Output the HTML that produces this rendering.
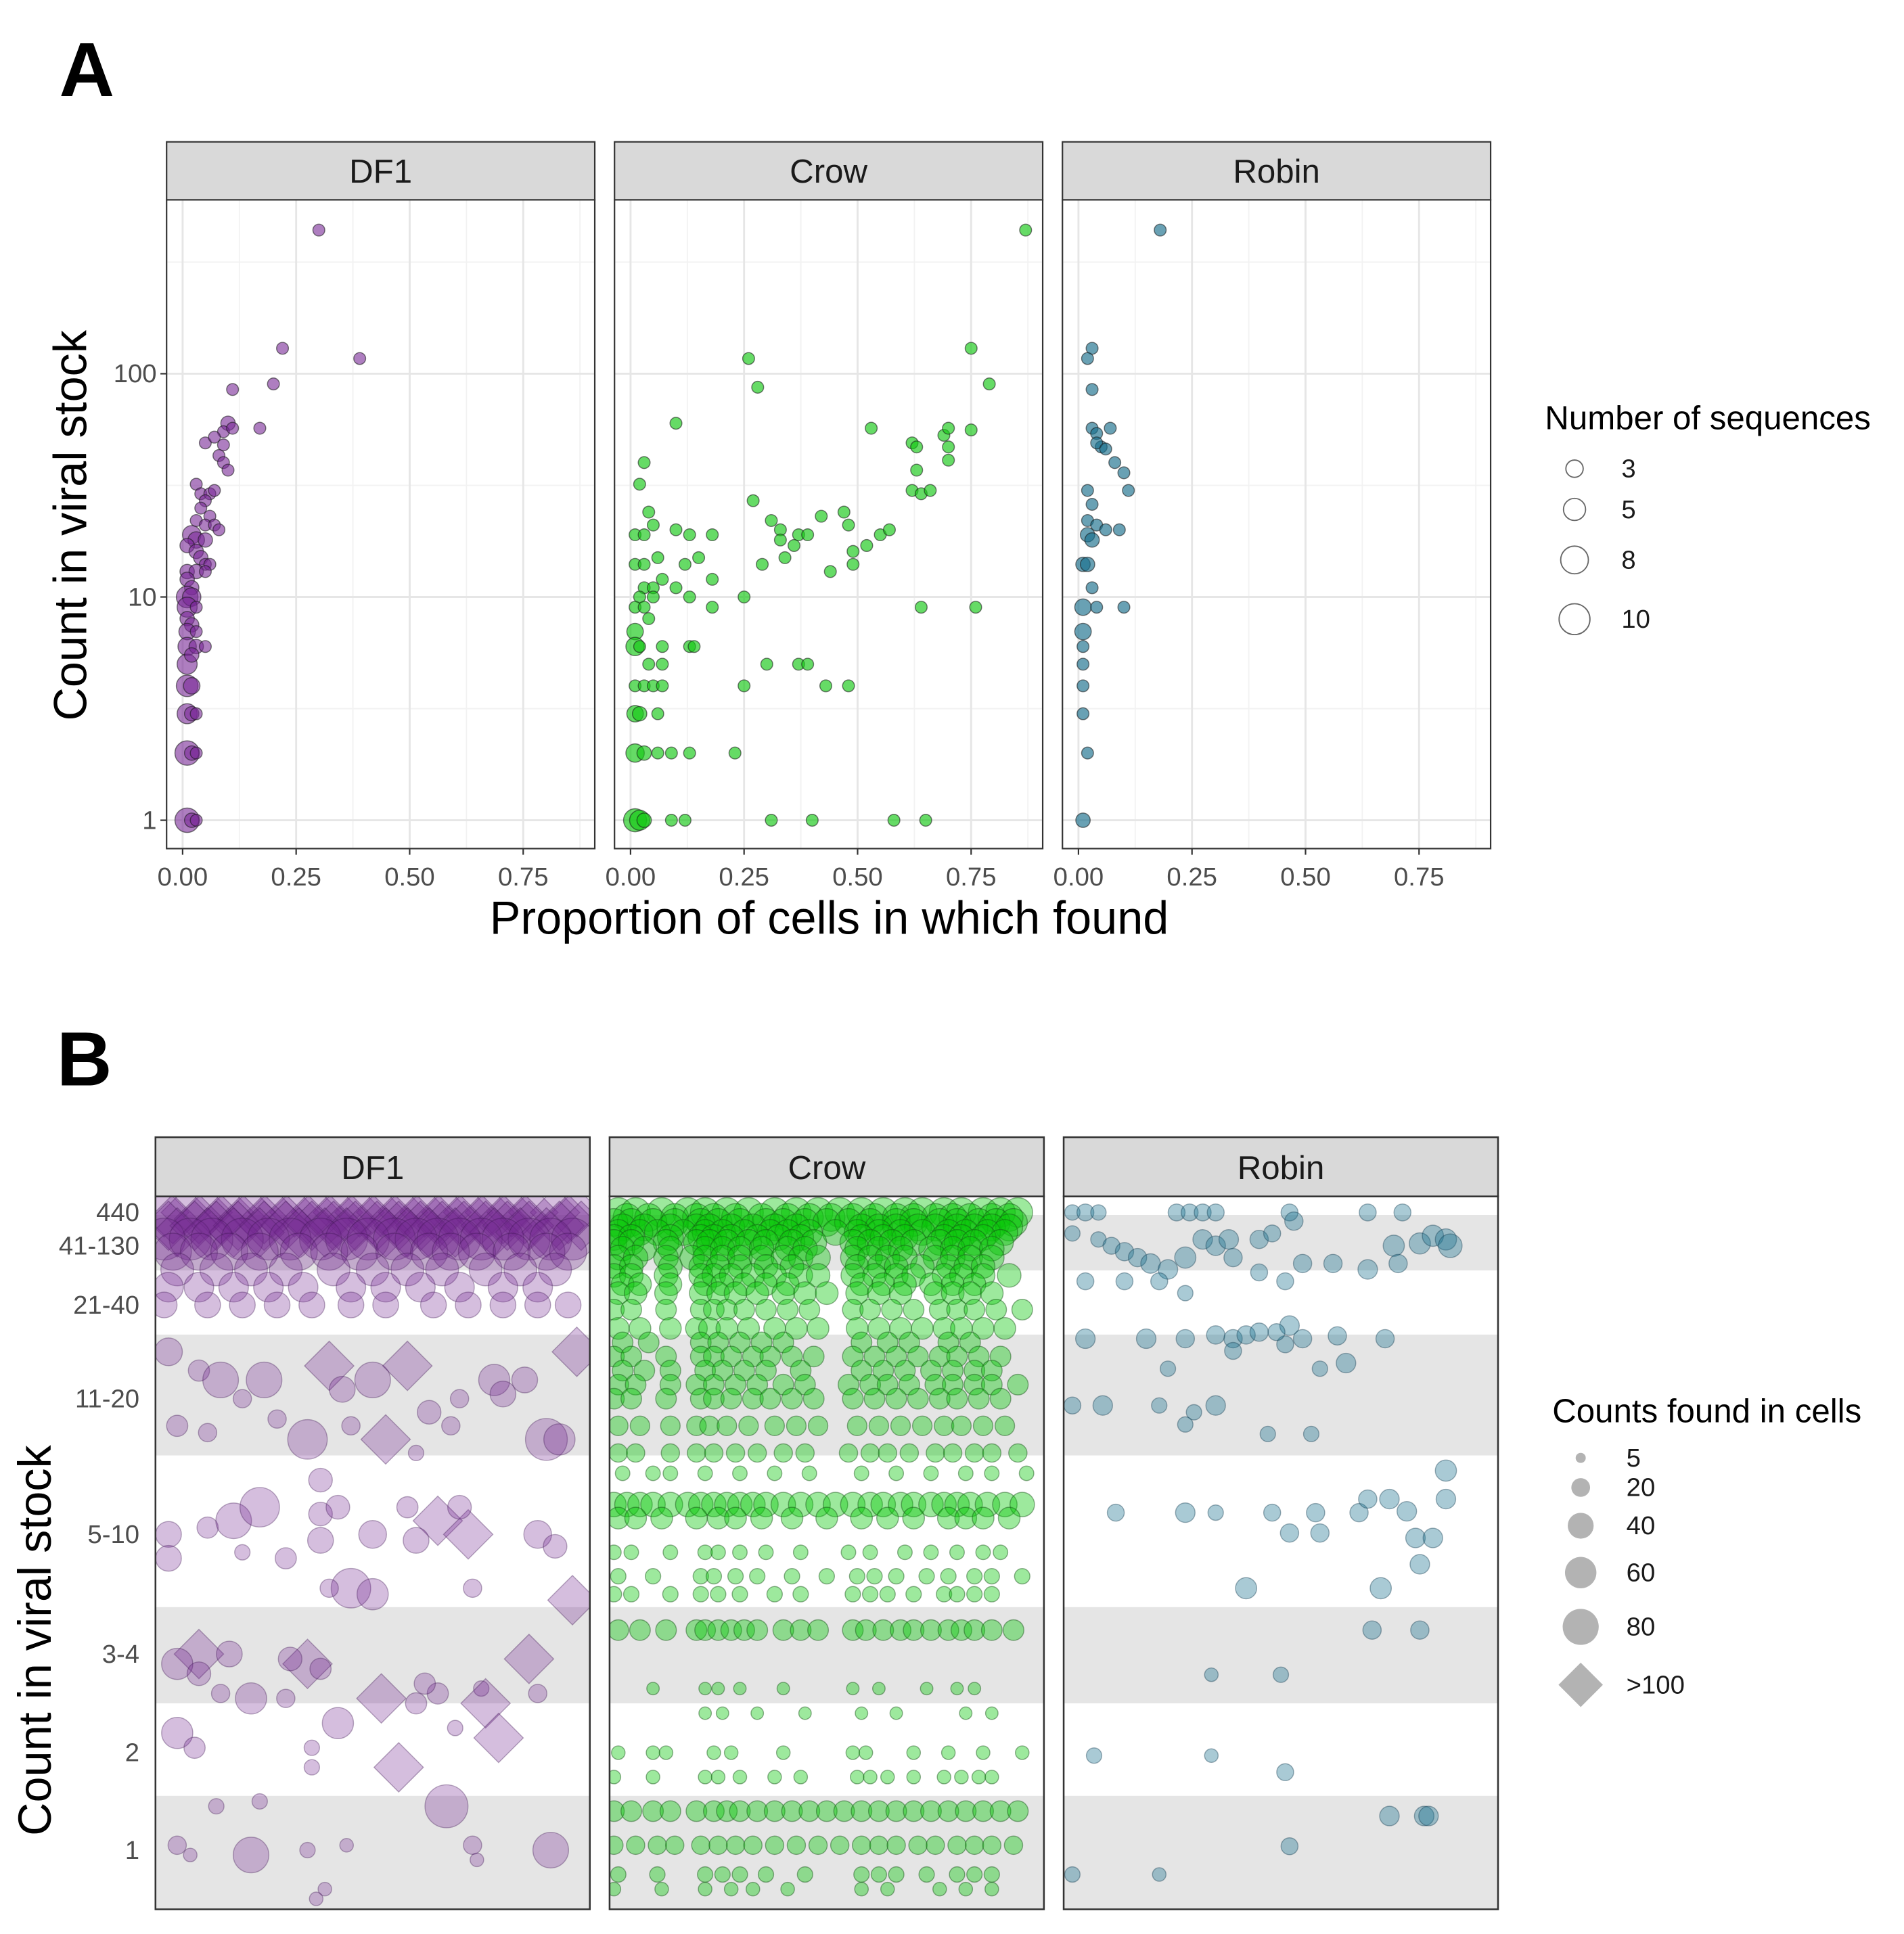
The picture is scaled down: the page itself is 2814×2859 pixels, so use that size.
<!DOCTYPE html>
<html><head><meta charset="utf-8"><style>
html,body{margin:0;padding:0;background:#fff}
svg{display:block}
text{font-family:"Liberation Sans",Arial,sans-serif}
</style></head><body>
<svg id="fig" xmlns="http://www.w3.org/2000/svg" width="2814" height="2859" viewBox="0 0 1543 1568" preserveAspectRatio="none">
<rect x="0" y="0" width="1560" height="1585" fill="#fff"/>
<text x="48" y="78" font-size="62" font-weight="bold">A</text>
<text x="46" y="880" font-size="62" font-weight="bold">B</text>
<g id="gA"></g>
<g id="gB"></g>
</svg>
<script>
// ===== Panel A data =====
const facetNames = ["DF1","Crow","Robin"];
const xTicksA = [0,0.25,0.5,0.75];
const xTickLabelsA = ["0.00","0.25","0.50","0.75"];
const yTicksA = [1,10,100];
const yTickLabelsA = ["1","10","100"];
const legendASizes = [3,5,8,10];
const legendALabels = ["3","5","8","10"];
// [proportion, count, n sequences]
const df1A = [[0.30,440,2],[0.22,130,2],[0.39,117,2],[0.11,85,2],[0.20,90,2],[0.10,60,3],[0.09,55,2],[0.11,57,2],[0.17,57,2],[0.05,49,2],[0.07,52,2],[0.09,48,2],[0.08,43,2],[0.09,40,2],[0.10,37,2],[0.03,32,2],[0.04,29,2],[0.06,29,2],[0.07,30,2],[0.05,27,2],[0.04,25,2],[0.06,23,2],[0.03,22,2],[0.05,21,2],[0.07,21,2],[0.08,20,2],[0.02,19,5],[0.03,18,4],[0.05,18,3],[0.01,17,3],[0.03,16,3],[0.04,15,3],[0.05,14,2],[0.06,14,2],[0.01,13,3],[0.03,13,3],[0.05,13,2],[0.01,12,3],[0.02,11,3],[0.01,10,7],[0.02,10,5],[0.01,9,6],[0.03,9,2],[0.01,8,3],[0.02,7.5,3],[0.01,7,4],[0.03,7,2],[0.01,6,5],[0.03,6,3],[0.05,6,2],[0.01,5,6],[0.02,5.5,3],[0.01,4,7],[0.02,4,4],[0.01,3,6],[0.02,3,3],[0.03,3,2],[0.01,2,9],[0.02,2,3],[0.03,2,2],[0.01,1,9],[0.02,1,3],[0.03,1,2]];
const crowA = [[0.87,440,2],[0.26,117,2],[0.28,87,2],[0.75,130,2],[0.79,90,2],[0.10,60,2],[0.53,57,2],[0.62,49,2],[0.63,47,2],[0.69,53,2],[0.70,57,2],[0.75,56,2],[0.70,47,2],[0.70,41,2],[0.63,37,2],[0.62,30,2],[0.64,29,2],[0.66,30,2],[0.03,40,2],[0.02,32,2],[0.04,24,2],[0.01,19,2],[0.03,19,2],[0.05,21,2],[0.10,20,2],[0.13,19,2],[0.18,19,2],[0.27,27,2],[0.31,22,2],[0.33,20,2],[0.33,18,2],[0.37,19,2],[0.36,17,2],[0.39,19,2],[0.42,23,2],[0.47,24,2],[0.48,21,2],[0.55,19,2],[0.57,20,2],[0.52,17,2],[0.49,16,2],[0.49,14,2],[0.44,13,2],[0.34,15,2],[0.29,14,2],[0.25,10,2],[0.15,15,2],[0.12,14,2],[0.01,14,2],[0.03,14,2],[0.06,15,2],[0.07,12,2],[0.03,11,2],[0.05,11,2],[0.18,12,2],[0.10,11,2],[0.02,10,2],[0.05,10,2],[0.13,10,2],[0.18,9,2],[0.64,9,2],[0.76,9,2],[0.01,9,2],[0.03,9,2],[0.04,8,2],[0.01,7,4],[0.01,6,5],[0.02,6,2],[0.07,6,2],[0.13,6,2],[0.14,6,2],[0.04,5,2],[0.07,5,2],[0.30,5,2],[0.37,5,2],[0.39,5,2],[0.01,4,2],[0.03,4,2],[0.05,4,2],[0.07,4,2],[0.25,4,2],[0.43,4,2],[0.48,4,2],[0.01,3,4],[0.02,3,3],[0.06,3,2],[0.01,2,5],[0.03,2,3],[0.06,2,2],[0.09,2,2],[0.13,2,2],[0.23,2,2],[0.01,1,8],[0.02,1,6],[0.03,1,3],[0.09,1,2],[0.12,1,2],[0.31,1,2],[0.40,1,2],[0.58,1,2],[0.65,1,2]];
const robinA = [[0.18,440,2],[0.03,130,2],[0.02,117,2],[0.03,85,2],[0.03,57,2],[0.04,54,2],[0.05,47,2],[0.04,49,2],[0.07,57,2],[0.06,46,2],[0.08,40,2],[0.10,36,2],[0.11,30,2],[0.02,30,2],[0.03,26,2],[0.02,22,2],[0.04,21,2],[0.02,19,3],[0.03,18,3],[0.06,20,2],[0.09,20,2],[0.01,14,3],[0.02,14,3],[0.03,11,2],[0.01,9,4],[0.04,9,2],[0.10,9,2],[0.01,7,4],[0.01,6,2],[0.01,5,2],[0.01,4,2],[0.01,3,2],[0.02,2,2],[0.01,1,3]];

// ===== Panel B data =====
const yCatLabelsB = ["1","2","3-4","5-10","11-20","21-40","41-130","440"];
const legendBValues = [5,20,40,60,80];
const legendBLabels = ["5","20","40","60","80",">100"];
// DF1 dense top rows: level, count found, x positions
const df1RowLevels = [7.0,6.8,6.6,6.4,6.2,5.9,5.6,5.3,5.0];
const df1RowCounts = [110,110,110,110,80,60,45,35,25];
const df1RowXs = [
 [0.02,0.07,0.12,0.17,0.22,0.27,0.32,0.37,0.42,0.47,0.52,0.57,0.62,0.67,0.72,0.77,0.82,0.87,0.92,0.97],
 [0.04,0.10,0.15,0.20,0.25,0.30,0.35,0.40,0.45,0.50,0.55,0.60,0.65,0.70,0.75,0.80,0.85,0.95],
 [0.03,0.09,0.14,0.19,0.25,0.30,0.36,0.41,0.46,0.51,0.56,0.61,0.66,0.71,0.76,0.81,0.86,0.93,0.98],
 [0.05,0.12,0.18,0.24,0.33,0.39,0.44,0.53,0.58,0.63,0.69,0.78,0.84,0.90],
 [0.02,0.08,0.13,0.20,0.26,0.31,0.38,0.44,0.49,0.55,0.60,0.65,0.70,0.75,0.80,0.86,0.91,0.96],
 [0.04,0.10,0.17,0.24,0.33,0.40,0.47,0.55,0.63,0.68,0.74,0.82,0.90,0.95],
 [0.05,0.14,0.22,0.30,0.41,0.50,0.58,0.66,0.76,0.84,0.92],
 [0.03,0.10,0.18,0.26,0.34,0.45,0.53,0.61,0.70,0.80,0.88],
 [0.02,0.12,0.20,0.28,0.36,0.45,0.53,0.64,0.72,0.80,0.88,0.95]
];
// DF1 scattered: [x, level, count found]
const df1B = [[0.03,4.5,30],[0.10,4.3,15],[0.15,4.2,55],[0.25,4.2,55],[0.20,4.0,10],[0.35,3.7,70],[0.40,4.35,110],[0.43,4.1,25],[0.50,4.2,55],[0.53,3.7,110],[0.58,4.35,110],[0.63,3.9,20],[0.70,4.0,10],[0.78,4.2,40],[0.80,4.05,25],[0.85,4.2,25],[0.90,3.7,80],[0.93,3.7,40],[0.97,4.5,110],[0.05,3.8,15],[0.12,3.75,10],[0.28,3.85,10],[0.45,3.8,10],[0.60,3.6,6],[0.68,3.8,10],
[0.03,3.0,25],[0.12,3.05,15],[0.18,3.1,55],[0.24,3.2,70],[0.38,3.4,20],[0.38,3.15,20],[0.38,2.95,25],[0.42,3.2,20],[0.50,3.0,30],[0.58,3.2,15],[0.65,3.1,110],[0.72,3.0,110],[0.70,3.2,20],[0.60,2.95,25],[0.88,3.0,30],[0.92,2.9,20],[0.03,2.8,25],[0.20,2.85,6],[0.30,2.8,15],[0.45,2.55,70],[0.50,2.5,40],[0.73,2.55,10],[0.96,2.45,110],[0.40,2.55,10],
[0.10,2.0,115],[0.05,1.9,40],[0.17,2.0,25],[0.35,1.9,110],[0.31,1.95,20],[0.38,1.85,15],[0.86,1.95,110],[0.60,1.5,15],[0.65,1.6,15],[0.75,1.65,6],[0.10,1.8,20],[0.15,1.6,10],[0.22,1.55,40],[0.30,1.55,10],[0.52,1.55,110],[0.76,1.5,110],[0.62,1.7,15],[0.88,1.6,10],[0.42,1.3,40],[0.79,1.15,110],[0.05,1.2,40],[0.09,1.05,15],[0.69,1.25,6],
[0.56,0.85,110],[0.36,1.05,6],[0.36,0.85,6],[0.67,0.45,85],[0.14,0.45,6],[0.24,0.5,6],[0.05,0.05,10],[0.22,-0.05,55],[0.08,-0.05,4],[0.35,0,6],[0.44,0.05,4],[0.91,0,55],[0.73,0.05,10],[0.74,-0.1,4],[0.37,-0.5,4],[0.39,-0.4,4]];
// Crow rows: level, count, x positions
const crowRowLevels = [7.0,6.85,6.7,6.55,6.4,6.25,6.1,5.95,5.8,5.65,5.5,5.35,5.2,4.95,4.75,4.6,4.45,4.3,4.15,4.0,3.8,3.6,3.45,3.22,3.12,2.85,2.65,2.5,2.2,1.65,1.4,1.0,0.75,0.4,0.05,-0.25,-0.4];
const crowRowCounts = [35,30,30,28,25,25,25,22,22,20,20,18,18,14,16,14,14,14,14,14,12,10,5,22,16,5,6,6,14,3,3,4,4,14,10,6,4];
const crowRowXs = [
 [0.02,0.06,0.12,0.18,0.22,0.27,0.32,0.38,0.43,0.48,0.53,0.58,0.63,0.68,0.72,0.77,0.81,0.86,0.90,0.94],
 [0.04,0.09,0.15,0.20,0.24,0.29,0.35,0.41,0.46,0.51,0.56,0.61,0.66,0.70,0.75,0.79,0.83,0.88,0.92],
 [0.01,0.05,0.10,0.15,0.21,0.25,0.30,0.36,0.40,0.45,0.50,0.55,0.60,0.66,0.70,0.76,0.80,0.85,0.89,0.93],
 [0.03,0.08,0.14,0.20,0.23,0.28,0.33,0.38,0.43,0.58,0.62,0.66,0.71,0.75,0.80,0.84,0.88,0.92],
 [0.02,0.07,0.11,0.17,0.22,0.26,0.31,0.37,0.41,0.46,0.52,0.57,0.62,0.67,0.72,0.78,0.82,0.87,0.91],
 [0.01,0.05,0.14,0.21,0.24,0.28,0.34,0.39,0.44,0.58,0.63,0.68,0.77,0.81,0.86],
 [0.01,0.05,0.13,0.20,0.23,0.27,0.32,0.36,0.42,0.47,0.56,0.60,0.65,0.70,0.76,0.80,0.84,0.90],
 [0.03,0.08,0.14,0.22,0.26,0.30,0.35,0.41,0.45,0.57,0.62,0.67,0.74,0.79,0.83,0.88],
 [0.02,0.06,0.13,0.19,0.22,0.26,0.30,0.35,0.40,0.44,0.48,0.56,0.60,0.64,0.68,0.75,0.79,0.83,0.88],
 [0.01,0.05,0.14,0.21,0.25,0.30,0.36,0.42,0.57,0.62,0.66,0.72,0.78,0.82,0.86],
 [0.01,0.05,0.13,0.21,0.24,0.28,0.33,0.38,0.44,0.48,0.56,0.61,0.66,0.70,0.77,0.81,0.86,0.92],
 [0.03,0.07,0.14,0.22,0.26,0.31,0.36,0.41,0.58,0.63,0.68,0.74,0.79,0.84],
 [0.02,0.06,0.13,0.21,0.25,0.29,0.34,0.40,0.45,0.50,0.57,0.62,0.67,0.75,0.79,0.83,0.88],
 [0.01,0.05,0.13,0.21,0.24,0.27,0.31,0.36,0.41,0.46,0.56,0.60,0.65,0.70,0.76,0.80,0.84,0.89,0.95],
 [0.02,0.07,0.14,0.20,0.23,0.27,0.32,0.38,0.43,0.48,0.57,0.62,0.67,0.72,0.77,0.81,0.86,0.91],
 [0.03,0.09,0.21,0.25,0.30,0.35,0.40,0.58,0.64,0.69,0.78,0.83],
 [0.01,0.05,0.13,0.21,0.24,0.28,0.33,0.37,0.42,0.47,0.56,0.61,0.66,0.71,0.76,0.80,0.85,0.90],
 [0.03,0.08,0.14,0.22,0.26,0.31,0.36,0.44,0.58,0.63,0.68,0.74,0.79,0.84,0.88],
 [0.02,0.06,0.14,0.20,0.24,0.29,0.34,0.40,0.45,0.55,0.60,0.64,0.69,0.75,0.79,0.84,0.88,0.94],
 [0.01,0.05,0.13,0.21,0.24,0.28,0.33,0.37,0.42,0.47,0.56,0.61,0.66,0.71,0.76,0.80,0.85,0.90],
 [0.02,0.07,0.14,0.20,0.23,0.27,0.32,0.38,0.43,0.48,0.57,0.62,0.67,0.72,0.77,0.81,0.86,0.91],
 [0.02,0.06,0.14,0.20,0.24,0.29,0.34,0.40,0.45,0.55,0.60,0.64,0.69,0.75,0.79,0.84,0.88,0.94],
 [0.03,0.10,0.14,0.22,0.30,0.38,0.46,0.58,0.66,0.74,0.82,0.88,0.96],
 [0.01,0.04,0.07,0.10,0.14,0.18,0.21,0.24,0.27,0.30,0.33,0.36,0.40,0.44,0.48,0.52,0.56,0.60,0.63,0.67,0.70,0.74,0.77,0.80,0.83,0.87,0.91,0.95],
 [0.02,0.06,0.12,0.20,0.25,0.29,0.35,0.42,0.50,0.58,0.64,0.70,0.78,0.82,0.86,0.92],
 [0.01,0.05,0.14,0.22,0.25,0.30,0.36,0.44,0.55,0.60,0.68,0.74,0.80,0.86,0.90],
 [0.02,0.10,0.21,0.24,0.29,0.34,0.42,0.50,0.57,0.61,0.66,0.73,0.78,0.84,0.88,0.95],
 [0.01,0.05,0.14,0.21,0.25,0.30,0.38,0.44,0.56,0.60,0.64,0.70,0.77,0.80,0.84,0.88],
 [0.02,0.07,0.13,0.20,0.22,0.25,0.28,0.31,0.34,0.40,0.44,0.48,0.56,0.59,0.63,0.67,0.70,0.74,0.78,0.81,0.84,0.88,0.93],
 [0.10,0.22,0.25,0.30,0.40,0.56,0.62,0.73,0.80,0.84],
 [0.22,0.26,0.34,0.45,0.58,0.66,0.82,0.88],
 [0.02,0.10,0.13,0.24,0.28,0.40,0.56,0.59,0.70,0.78,0.86,0.95],
 [0.01,0.10,0.22,0.25,0.30,0.38,0.44,0.57,0.60,0.64,0.70,0.77,0.81,0.85,0.88],
 [0.01,0.05,0.10,0.14,0.20,0.24,0.27,0.30,0.34,0.38,0.42,0.46,0.50,0.54,0.58,0.62,0.66,0.70,0.74,0.78,0.82,0.86,0.90,0.94],
 [0.01,0.06,0.11,0.15,0.21,0.25,0.29,0.33,0.38,0.43,0.48,0.53,0.58,0.62,0.66,0.71,0.75,0.80,0.84,0.88,0.93],
 [0.02,0.11,0.22,0.26,0.30,0.36,0.45,0.58,0.62,0.66,0.73,0.80,0.84,0.88],
 [0.01,0.12,0.22,0.28,0.33,0.41,0.58,0.64,0.76,0.82,0.88]
];
// Robin scattered: [x, level, count found]
const robinB = [[0.02,7,6],[0.05,7,8],[0.08,7,6],[0.26,7,8],[0.29,7,8],[0.32,7,8],[0.35,7,8],[0.52,7,8],[0.70,7,8],[0.78,7,8],
[0.02,6.37,6],[0.08,6.19,6],[0.11,6.0,8],[0.14,5.9,10],[0.17,5.8,10],[0.20,5.7,12],[0.24,5.6,12],[0.28,5.8,15],[0.32,6.19,12],[0.35,6.0,12],[0.38,6.19,12],[0.39,5.8,10],[0.45,6.19,10],[0.48,6.37,8],[0.53,6.74,10],[0.55,5.7,10],[0.62,5.7,10],[0.70,5.6,12],[0.76,6.0,15],[0.77,5.7,10],[0.82,6.07,15],[0.85,6.3,15],[0.88,6.19,15],[0.89,6.0,20],[0.45,5.55,8],[0.22,5.4,8],[0.14,5.4,8],[0.05,5.4,8],[0.28,5.2,6],[0.51,5.4,8],
[0.05,4.64,12],[0.19,4.64,12],[0.28,4.64,10],[0.35,4.68,10],[0.39,4.64,10],[0.42,4.68,10],[0.45,4.71,10],[0.52,4.78,12],[0.55,4.64,10],[0.63,4.67,10],[0.74,4.64,10],[0.65,4.38,12],[0.51,4.58,8],[0.49,4.71,8],[0.24,4.32,6],[0.39,4.51,8],[0.59,4.32,6],[0.02,3.95,8],[0.09,3.95,12],[0.22,3.95,6],[0.35,3.95,12],[0.30,3.9,6],[0.28,3.81,6],[0.47,3.74,6],[0.57,3.74,6],
[0.12,3.16,8],[0.28,3.16,12],[0.35,3.16,6],[0.48,3.16,8],[0.58,3.16,10],[0.68,3.16,10],[0.70,3.26,10],[0.75,3.26,12],[0.79,3.17,12],[0.88,3.47,15],[0.88,3.26,12],[0.81,2.97,12],[0.85,2.97,12],[0.52,3.01,10],[0.59,3.01,10],[0.82,2.75,12],[0.42,2.55,15],[0.73,2.55,15],[0.71,2.2,10],[0.82,2.2,10],[0.34,1.79,4],[0.50,1.79,6],[0.07,0.97,6],[0.34,0.97,4],[0.51,0.8,8],[0.75,0.35,12],[0.83,0.35,12],[0.84,0.35,12],[0.52,0.04,8],[0.02,-0.25,6],[0.22,-0.25,4]];

// ===== Helpers =====
const NS = "http://www.w3.org/2000/svg";
function mk(tag, attrs, parent){const e=document.createElementNS(NS,tag);for(const k in attrs)e.setAttribute(k,attrs[k]);parent.appendChild(e);return e;}
function txt(str, attrs, parent){const e=mk("text",attrs,parent);e.textContent=str;return e;}

// ===== Panel A =====
const gA = document.getElementById("gA");
const aLeft=[135,498,861], aW=347, aTop=162, aBot=688, stripTop=115;
const xMinA=-0.0353, xMaxA=0.9076;
const yLogTop=2.779, yLogBot=-0.127;
function xA(p,v){return aLeft[p]+(v-xMinA)/(xMaxA-xMinA)*aW;}
function yA(c){return aBot-(Math.log10(c)-yLogBot)/(yLogTop-yLogBot)*(aBot-aTop);}
function rA(n){return 3.2*Math.sqrt(n)+0.3;}
const seriesA=[df1A,crowA,robinA];
const fillsA=["rgba(120,40,150,0.6)","rgba(20,200,20,0.65)","rgba(25,110,140,0.65)"];
for(let p=0;p<3;p++){
  const pg=mk("g",{},gA);
  
  
  mk("rect",{x:aLeft[p],y:aTop,width:aW,height:aBot-aTop,fill:"#fff"},pg);
  [0.125,0.375,0.625,0.875].forEach(v=>{const x=xA(p,v);if(x<aLeft[p]+aW)mk("line",{x1:x,x2:x,y1:aTop,y2:aBot,stroke:"#f2f2f2","stroke-width":1},pg);});
  [Math.sqrt(10),Math.sqrt(1000),Math.sqrt(100000)].forEach(v=>{const y=yA(v);mk("line",{x1:aLeft[p],x2:aLeft[p]+aW,y1:y,y2:y,stroke:"#f2f2f2","stroke-width":1},pg);});
  xTicksA.forEach(v=>{const x=xA(p,v);mk("line",{x1:x,x2:x,y1:aTop,y2:aBot,stroke:"#e6e6e6","stroke-width":1.6},pg);});
  yTicksA.forEach(v=>{const y=yA(v);mk("line",{x1:aLeft[p],x2:aLeft[p]+aW,y1:y,y2:y,stroke:"#e6e6e6","stroke-width":1.6},pg);});
  seriesA[p].forEach(d=>{
    const c=mk("circle",{cx:xA(p,d[0]),cy:yA(d[1]),r:rA(d[2]),fill:fillsA[p],stroke:"rgba(20,20,20,0.55)","stroke-width":0.8},pg);
    
    
  });
  mk("rect",{x:aLeft[p],y:aTop,width:aW,height:aBot-aTop,fill:"none",stroke:"#333","stroke-width":1.2},pg);
  const st=mk("rect",{x:aLeft[p],y:stripTop,width:aW,height:aTop-stripTop,fill:"#d9d9d9",stroke:"#333","stroke-width":1.2},pg);
  
  
  txt(facetNames[p],{x:aLeft[p]+aW/2,y:148,"font-size":27,"text-anchor":"middle",fill:"#1a1a1a"},pg);
  xTicksA.forEach((v,i)=>{const x=xA(p,v);mk("line",{x1:x,x2:x,y1:aBot,y2:aBot+5,stroke:"#333","stroke-width":1.2},pg);
    const t=txt(xTickLabelsA[i],{x:x,y:718,"font-size":21,"text-anchor":"middle",fill:"#4d4d4d"},pg);
    
    });
}
yTicksA.forEach((v,i)=>{const y=yA(v);mk("line",{x1:aLeft[0]-5,x2:aLeft[0],y1:y,y2:y,stroke:"#333","stroke-width":1.2},gA);
  const t=txt(yTickLabelsA[i],{x:aLeft[0]-8,y:y+7,"font-size":21,"text-anchor":"end",fill:"#4d4d4d"},gA);
  
  });
const xtA=txt("Proportion of cells in which found",{x:672,y:757,"font-size":37.5,"text-anchor":"middle",fill:"#000"},gA);


const ytA=txt("Count in viral stock",{x:0,y:0,"font-size":37.5,"text-anchor":"middle",fill:"#000",transform:"translate(70,426) rotate(-90)"},gA);


const lgA=mk("g",{},gA);


txt("Number of sequences",{x:1252,y:348,"font-size":27,fill:"#000"},lgA);
const lgAy=[380,413,454,502];
legendASizes.forEach((s,i)=>{mk("circle",{cx:1276,cy:lgAy[i],r:rA(s)*1.2,fill:"none",stroke:"#666","stroke-width":1},lgA);
  const t=txt(legendALabels[i],{x:1314,y:lgAy[i]+7,"font-size":21,fill:"#1a1a1a"},lgA);
  
  });

// ===== Panel B =====
const gB=document.getElementById("gB");
const bLeft=[126,494,862], bW=352, bTop=970, bBot=1548, bStrip=922;
const catCenters=[1500,1421,1341,1244,1134,1058,1010,983];
function yB(l){
  if(l<=0) return catCenters[0]+(0-l)*79;
  if(l>=7) return catCenters[7]-(l-7)*27;
  const i=Math.floor(l), f=l-i;
  return catCenters[i]+(catCenters[i+1]-catCenters[i])*f;
}
function xB(p,v){return bLeft[p]+v*bW;}
function rB(c){return 2.2+Math.sqrt(c)*1.65;}
const fillB=["rgba(115,40,145,0.30)","rgba(10,200,10,0.40)","rgba(30,115,145,0.38)"];
const strokeB=["rgba(60,20,80,0.35)","rgba(20,80,20,0.45)","rgba(20,60,80,0.4)"];
const bands=[[1456,1548],[1303,1381],[1082,1180],[985,1030]];
function markB(pg,p,x,l,c){
  const cx=xB(p,x), cy=yB(l);
  let e;
  if(c>100){const s=20;e=mk("polygon",{points:`${cx},${cy-s} ${cx+s},${cy} ${cx},${cy+s} ${cx-s},${cy}`,fill:fillB[p],stroke:strokeB[p],"stroke-width":0.8},pg);}
  else e=mk("circle",{cx:cx,cy:cy,r:rB(c),fill:fillB[p],stroke:strokeB[p],"stroke-width":0.8},pg);
  
  
}
for(let p=0;p<3;p++){
  const pg=mk("g",{},gB);
  
  
  const cp=mk("clipPath",{id:"cp"+p},pg);
  mk("rect",{x:bLeft[p],y:bTop,width:bW,height:bBot-bTop},cp);
  mk("rect",{x:bLeft[p],y:bTop,width:bW,height:bBot-bTop,fill:"#fff"},pg);
  bands.forEach(b=>mk("rect",{x:bLeft[p],y:b[0],width:bW,height:b[1]-b[0],fill:"#e5e5e5"},pg));
  const dg=mk("g",{"clip-path":`url(#cp${p})`},pg);
  if(p===0){
    df1RowLevels.forEach((l,i)=>df1RowXs[i].forEach(x=>markB(dg,0,x,l,df1RowCounts[i])));
    df1B.forEach(d=>markB(dg,0,d[0],d[1],d[2]));
  } else if(p===1){
    crowRowLevels.forEach((l,i)=>crowRowXs[i].forEach(x=>markB(dg,1,x,l,crowRowCounts[i])));
  } else {
    robinB.forEach(d=>markB(dg,2,d[0],d[1],d[2]));
  }
  mk("rect",{x:bLeft[p],y:bTop,width:bW,height:bBot-bTop,fill:"none",stroke:"#333","stroke-width":1.4},pg);
  const st=mk("rect",{x:bLeft[p],y:bStrip,width:bW,height:bTop-bStrip,fill:"#d9d9d9",stroke:"#333","stroke-width":1.4},pg);
  
  
  txt(facetNames[p],{x:bLeft[p]+bW/2,y:956,"font-size":27,"text-anchor":"middle",fill:"#1a1a1a"},pg);
}
yCatLabelsB.forEach((s,i)=>{
  const t=txt(s,{x:113,y:catCenters[i]+7,"font-size":21,"text-anchor":"end",fill:"#4d4d4d"},gB);
  
  
});
const ytB=txt("Count in viral stock",{x:0,y:0,"font-size":37.5,"text-anchor":"middle",fill:"#000",transform:"translate(41,1330) rotate(-90)"},gB);


const lgB=mk("g",{},gB);


txt("Counts found in cells",{x:1258,y:1153,"font-size":27,fill:"#000"},lgB);
const lgBy=[1182,1206,1237,1275,1319,1366];
legendBValues.forEach((v,i)=>{mk("circle",{cx:1281,cy:lgBy[i],r:rB(v)*0.95-1.5,fill:"#b3b3b3"},lgB);
  const t=txt(legendBLabels[i],{x:1318,y:lgBy[i]+7,"font-size":21,fill:"#1a1a1a"},lgB);
  
  });
mk("polygon",{points:`1281,${1366-18} 1299,1366 1281,${1366+18} 1263,1366`,fill:"#b3b3b3"},lgB);
const tl=txt(legendBLabels[5],{x:1318,y:1373,"font-size":21,fill:"#1a1a1a"},lgB);


</script>
</body></html>
